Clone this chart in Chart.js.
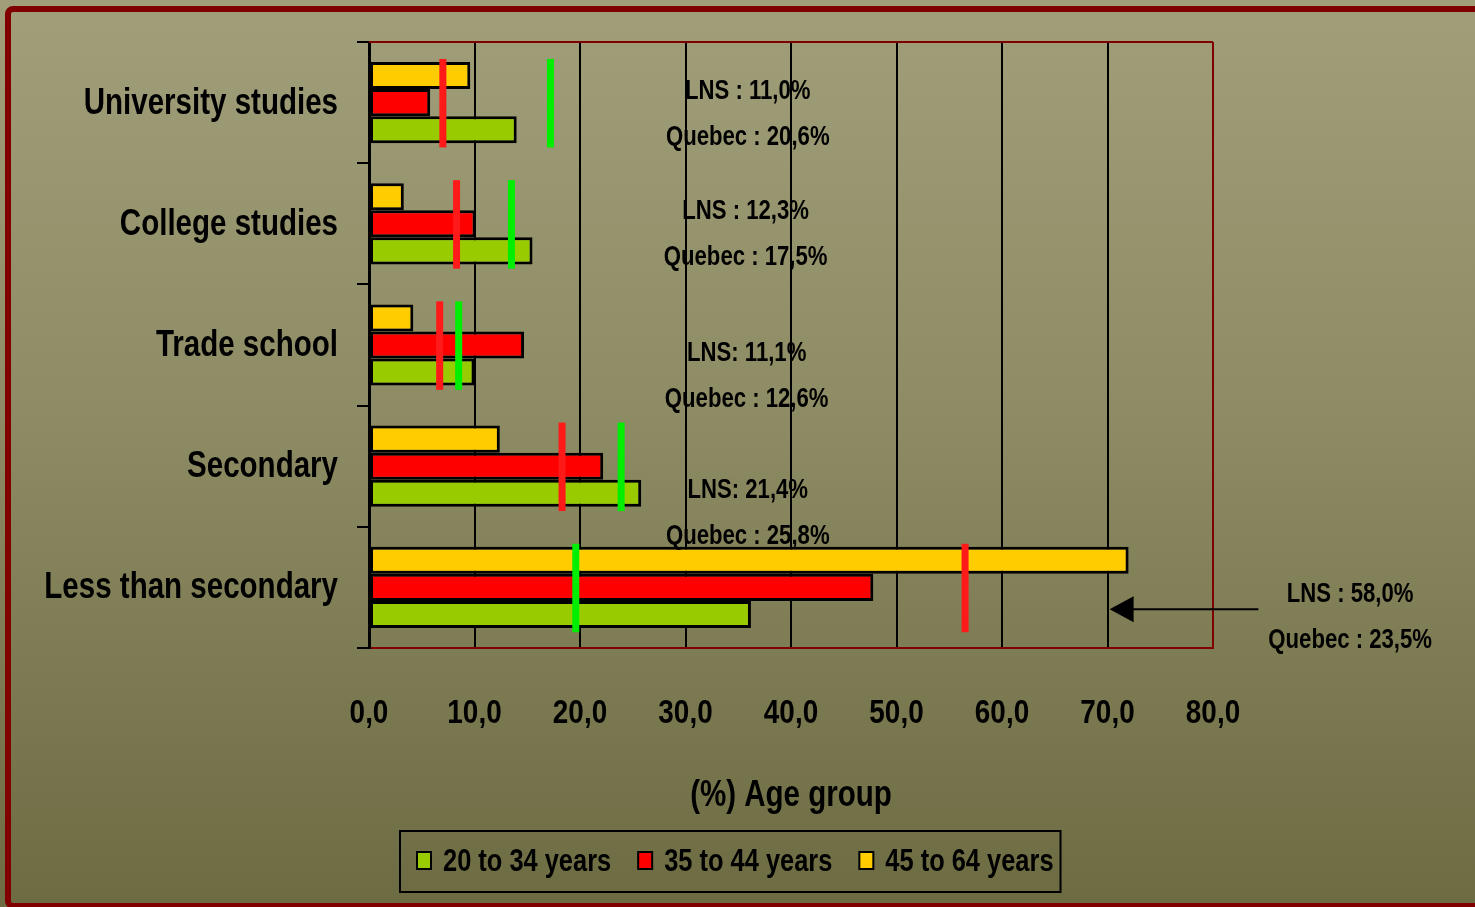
<!DOCTYPE html>
<html>
<head>
<meta charset="utf-8">
<script src="https://cdn.jsdelivr.net/npm/chart.js@4.4.1/dist/chart.umd.min.js"></script>
<style>
  html, body { margin: 0; padding: 0; }
  body {
    width: 1475px; height: 907px; overflow: hidden; position: relative;
    background: linear-gradient(to bottom, #a09f7a 0%, #8e8c64 45%, #6c6b42 100%);
  }
  #frame {
    position: absolute; left: 5px; top: 6px; width: 1490px; height: 903px;
    box-sizing: border-box; border: 6px solid #800000; border-radius: 8px;
  }
  #chart { position: absolute; left: 0; top: 0; }
</style>
</head>
<body>
<div id="frame"></div>
<canvas id="chart" width="1475" height="907"></canvas>
<script>
// Données du graphique
const categories = ['University studies', 'College studies', 'Trade school', 'Secondary', 'Less than secondary'];
const age20to34 = [14.0, 15.5, 10.0, 25.8, 36.2];
const age35to44 = [5.8, 10.1, 14.7, 22.2, 47.8];
const age45to64 = [9.6, 3.3, 4.2, 12.4, 72.0];
// Repères verticaux (rouge = LNS, vert = Québec)
const lnsMarks = [7.0, 8.3, 6.7, 18.3, 56.5];
const quebecMarks = [17.2, 13.5, 8.5, 23.9, 19.6];
// Textes des annotations
const lnsNotes = ['LNS : 11,0%', 'LNS : 12,3%', 'LNS: 11,1%', 'LNS: 21,4%', 'LNS : 58,0%'];
const quebecNotes = ['Quebec : 20,6%', 'Quebec : 17,5%', 'Quebec : 12,6%', 'Quebec : 25,8%', 'Quebec : 23,5%'];
const xTicks = [0, 10, 20, 30, 40, 50, 60, 70, 80];
const axisTitle = '(%) Age group';

// Placement des annotations (x en valeur, y en fraction de catégorie)
const noteX = [35.9, 35.7, 35.8, 35.9, 93.0];
const noteShift = [-0.09, -0.10, 0.07, 0.20, 0.06];
const noteGap = 0.38;

const FONT = "'Liberation Sans', Arial, sans-serif";
const NARROW = 0.82; // imitation de l'Arial Narrow
const DARK_RED = '#800000';

// Texte "étroit" : compression horizontale via maxWidth
function narrowText(ctx, text, x, y, size) {
    ctx.font = 'bold ' + size + 'px ' + FONT;
    const w = ctx.measureText(text).width * NARROW;
    ctx.fillText(text, x, y, w);
    return w;
}

const overlayPlugin = {
    id: 'overlay',
    afterDatasetsDraw: (chart) => {
        const ctx = chart.ctx;
        const x = chart.scales.x;
        const y = chart.scales.y;
        const area = chart.chartArea;
        ctx.save();
        // Bord supérieur du cadre
        ctx.strokeStyle = DARK_RED;
        ctx.lineWidth = 2;
        ctx.beginPath();
        ctx.moveTo(area.left, area.top);
        ctx.lineTo(area.right, area.top);
        ctx.stroke();

        // Repères LNS / Québec
        const drawMark = (value, i, color) => {
            const px = x.getPixelForValue(value);
            const top = y.getPixelForValue(i - 0.36);
            const bottom = y.getPixelForValue(i + 0.37);
            ctx.fillStyle = color;
            ctx.fillRect(px - 3.5, top, 7, bottom - top);
        };
        categories.forEach((c, i) => {
            drawMark(lnsMarks[i], i, '#ff1a1a');
            drawMark(quebecMarks[i], i, '#00ee00');
        });

        // Annotations
        ctx.fillStyle = '#000';
        ctx.textAlign = 'center';
        ctx.textBaseline = 'middle';
        categories.forEach((c, i) => {
            const px = x.getPixelForValue(noteX[i]);
            narrowText(ctx, lnsNotes[i], px, y.getPixelForValue(i + noteShift[i]), 27);
            narrowText(ctx, quebecNotes[i], px, y.getPixelForValue(i + noteShift[i] + noteGap), 27);
        });

        // Flèche vers la dernière catégorie
        const last = categories.length - 1;
        const ay = y.getPixelForValue(last + 0.18);
        const tip = x.getPixelForValue(70.2);
        const tail = x.getPixelForValue(84.3);
        ctx.strokeStyle = '#000';
        ctx.lineWidth = 2;
        ctx.beginPath();
        ctx.moveTo(tail, ay);
        ctx.lineTo(tip + 20, ay);
        ctx.stroke();
        ctx.beginPath();
        ctx.moveTo(tip, ay);
        ctx.lineTo(tip + 24, ay - 13);
        ctx.lineTo(tip + 24, ay + 13);
        ctx.closePath();
        ctx.fill();
        ctx.restore();
    },
    afterDraw: (chart) => {
        const ctx = chart.ctx;
        const x = chart.scales.x;
        const y = chart.scales.y;
        const area = chart.chartArea;
        ctx.save();
        ctx.fillStyle = '#000';
        ctx.textBaseline = 'middle';

        // Libellés des catégories
        ctx.textAlign = 'right';
        categories.forEach((c, i) => {
            narrowText(ctx, c, area.left - 31, y.getPixelForValue(i) + 1, 36);
        });

        // Graduations de l'axe X
        ctx.textAlign = 'center';
        xTicks.forEach(v => {
            narrowText(ctx, v.toFixed(1).replace('.', ','), x.getPixelForValue(v), area.bottom + 66, 34);
        });

        // Titre de l'axe X
        narrowText(ctx, axisTitle, (area.left + area.right) / 2, area.bottom + 148, 36);

        // Légende (ordre inverse des séries)
        const items = chart.data.datasets.slice().reverse();
        const legTop = 831;
        const legLeft = 400;
        const cy = legTop + 30;
        let cx = legLeft + 17;
        ctx.textAlign = 'left';
        items.forEach((ds, k) => {
            ctx.fillStyle = ds.backgroundColor;
            ctx.fillRect(cx, cy - 9, 14, 17);
            ctx.strokeStyle = '#000';
            ctx.lineWidth = 2;
            ctx.strokeRect(cx, cy - 9, 14, 17);
            ctx.fillStyle = '#000';
            const w = narrowText(ctx, ds.label, cx + 26, cy + 1, 31);
            cx += 26 + w + 27;
        });
        ctx.strokeStyle = '#000';
        ctx.lineWidth = 2;
        ctx.strokeRect(legLeft, legTop, cx - 27 + 7 - legLeft, 61);
        ctx.restore();
    }
};

const ctx = document.getElementById('chart').getContext('2d');
new Chart(ctx, {
    type: 'bar',
    data: {
        labels: categories,
        datasets: [{
            label: '45 to 64 years',
            data: age45to64,
            backgroundColor: '#ffcc00'
        }, {
            label: '35 to 44 years',
            data: age35to44,
            backgroundColor: '#ff0000'
        }, {
            label: '20 to 34 years',
            data: age20to34,
            backgroundColor: '#99cc00'
        }]
    },
    options: {
        indexAxis: 'y',
        responsive: false,
        animation: false,
        datasets: {
            bar: {
                borderColor: '#000',
                borderWidth: 3,
                borderSkipped: false,
                barPercentage: 1.0,
                categoryPercentage: 0.67
            }
        },
        layout: {
            padding: { top: 42, right: 262, left: 357, bottom: 259 }
        },
        scales: {
            x: {
                min: 0,
                max: 80,
                afterBuildTicks: (scale) => {
                    scale.ticks = xTicks.map(v => ({ value: v }));
                },
                ticks: { display: false },
                grid: {
                    drawTicks: false,
                    lineWidth: 2,
                    color: (c) => c.tick && c.tick.value === 80 ? DARK_RED : '#000'
                },
                border: { color: DARK_RED, width: 2 }
            },
            y: {
                ticks: { display: false },
                grid: {
                    offset: true,
                    drawOnChartArea: false,
                    tickLength: 12,
                    lineWidth: 2,
                    color: '#000'
                },
                border: { color: '#000', width: 3 }
            }
        },
        plugins: {
            legend: { display: false },
            tooltip: { enabled: false }
        }
    },
    plugins: [overlayPlugin]
});
</script>
</body>
</html>
